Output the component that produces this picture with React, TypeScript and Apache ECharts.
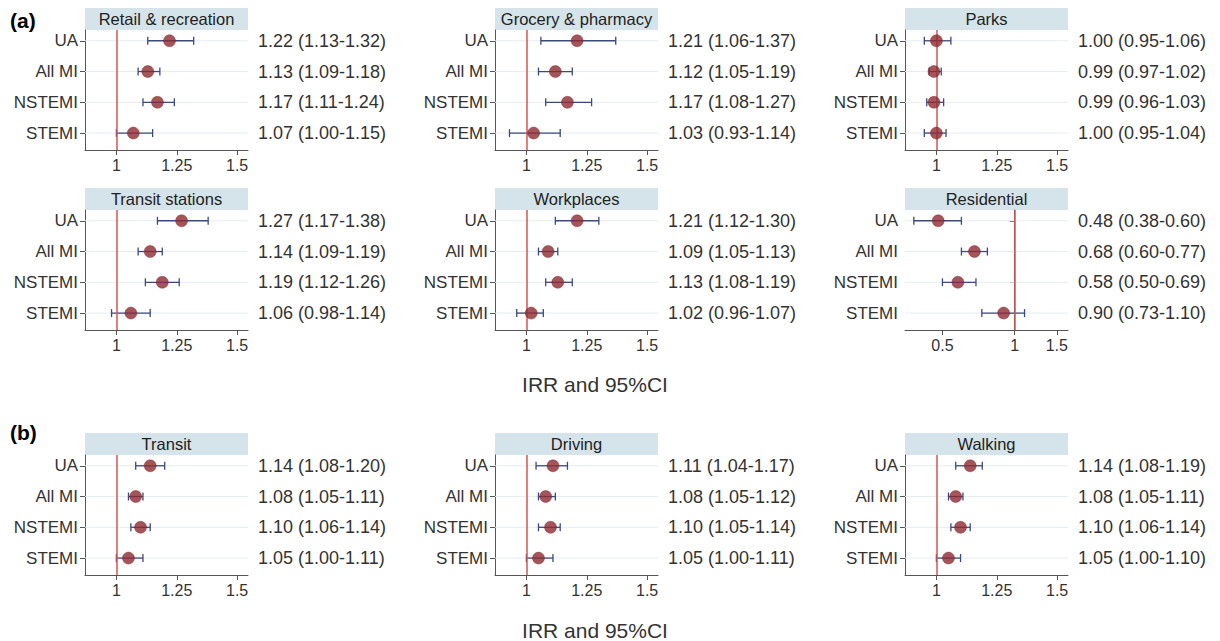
import { useEffect, useRef } from 'react';
import * as echarts from 'echarts';

const groups = ['UA', 'All MI', 'NSTEMI', 'STEMI'];

const panelTitles = [
  'Retail & recreation', 'Grocery & pharmacy', 'Parks',
  'Transit stations', 'Workplaces', 'Residential',
  'Transit', 'Driving', 'Walking',
];

// [irr, lower, upper] per group (UA, All MI, NSTEMI, STEMI)
const retail = [[1.22, 1.13, 1.32], [1.13, 1.09, 1.18], [1.17, 1.11, 1.24], [1.07, 1.0, 1.15]];
const grocery = [[1.21, 1.06, 1.37], [1.12, 1.05, 1.19], [1.17, 1.08, 1.27], [1.03, 0.93, 1.14]];
const parks = [[1.0, 0.95, 1.06], [0.99, 0.97, 1.02], [0.99, 0.96, 1.03], [1.0, 0.95, 1.04]];
const transitStations = [[1.27, 1.17, 1.38], [1.14, 1.09, 1.19], [1.19, 1.12, 1.26], [1.06, 0.98, 1.14]];
const workplaces = [[1.21, 1.12, 1.3], [1.09, 1.05, 1.13], [1.13, 1.08, 1.19], [1.02, 0.96, 1.07]];
const residential = [[0.48, 0.38, 0.6], [0.68, 0.6, 0.77], [0.58, 0.5, 0.69], [0.9, 0.73, 1.1]];
const transit = [[1.14, 1.08, 1.2], [1.08, 1.05, 1.11], [1.1, 1.06, 1.14], [1.05, 1.0, 1.11]];
const driving = [[1.11, 1.04, 1.17], [1.08, 1.05, 1.12], [1.1, 1.05, 1.14], [1.05, 1.0, 1.11]];
const walking = [[1.14, 1.08, 1.19], [1.08, 1.05, 1.11], [1.1, 1.06, 1.14], [1.05, 1.0, 1.1]];

const panelData = [retail, grocery, parks, transitStations, workplaces, residential, transit, driving, walking];
const linearTicks = [1, 1.25, 1.5];
const logTicks = [0.5, 1, 1.5];

const FONT = 'Liberation Sans, Arial, sans-serif';
const colLeft = [85, 495, 905];
const rowTop = [30, 210, 455];
const PW = 163;
const PH = 120;

export default function App() {
  const ref = useRef<HTMLDivElement>(null);

  useEffect(() => {
    document.body.style.margin = '0';
    if (!ref.current) return;
    const chart = echarts.init(ref.current, null, { renderer: 'svg' });

    const grids: any[] = [];
    const xAxes: any[] = [];
    const yAxes: any[] = [];
    const series: any[] = [];
    const graphic: any[] = [];

    panelData.forEach((rows, i) => {
      const isLog = i === 5;
      const tf = (v: number) => (isLog ? Math.log(v) : v);
      const ticks = isLog ? logTicks : linearTicks;
      const left = colLeft[i % 3];
      const top = rowTop[Math.floor(i / 3)];
      grids.push({ left, top, width: PW, height: PH });
      xAxes.push({
        gridIndex: i,
        type: 'value',
        min: isLog ? Math.log(0.349) : 0.87,
        max: isLog ? Math.log(1.67) : 1.545,
        axisLine: { show: true, onZero: false, lineStyle: { color: '#555' } },
        axisTick: { show: true, customValues: ticks.map(tf), length: 5, lineStyle: { color: '#555' } },
        axisLabel: {
          customValues: ticks.map(tf),
          formatter: (v: number) => {
            const r = Math.round((isLog ? Math.exp(v) : v) * 100) / 100;
            return String(r);
          },
          color: '#333', fontSize: 16, fontFamily: FONT, margin: 7,
        },
        splitLine: { show: false },
      });
      yAxes.push({
        gridIndex: i,
        type: 'value',
        inverse: true,
        min: -0.35,
        max: 3.55,
        axisLine: { show: true, lineStyle: { color: '#555' } },
        axisTick: { show: true, customValues: [0, 1, 2, 3], length: 5, lineStyle: { color: '#555' } },
        axisLabel: {
          customValues: [0, 1, 2, 3],
          formatter: (v: number) => groups[Math.round(v)] ?? '',
          color: '#333', fontSize: 17, fontFamily: FONT, margin: 7,
        },
        splitLine: { show: false },
      });
      series.push({
        type: 'custom',
        xAxisIndex: i,
        yAxisIndex: i,
        silent: true,
        data: rows.map((r, k) => [tf(r[0]), k, tf(r[1]), tf(r[2]), r[0], r[1], r[2]]),
        renderItem: (params: any, api: any) => {
          const cs = params.coordSys;
          const y = api.coord([api.value(0), api.value(1)])[1];
          const lo = api.coord([api.value(2), api.value(1)])[0];
          const hi = api.coord([api.value(3), api.value(1)])[0];
          const f = (v: number) => v.toFixed(2);
          const lineStyle = { stroke: '#3b4a7d', lineWidth: 1.3 };
          return {
            type: 'group',
            children: [
              { type: 'line', shape: { x1: cs.x, y1: y, x2: cs.x + cs.width, y2: y }, style: { stroke: '#e3edf2', lineWidth: 1 } },
              { type: 'line', shape: { x1: lo, y1: y, x2: hi, y2: y }, style: lineStyle },
              { type: 'line', shape: { x1: lo, y1: y - 4, x2: lo, y2: y + 4 }, style: lineStyle },
              { type: 'line', shape: { x1: hi, y1: y - 4, x2: hi, y2: y + 4 }, style: lineStyle },
              {
                type: 'text',
                x: cs.x + cs.width + 10,
                y,
                style: {
                  text: `${f(api.value(4))} (${f(api.value(5))}-${f(api.value(6))})`,
                  fill: '#333', font: `18px ${FONT}`, textVerticalAlign: 'middle',
                },
              },
            ],
          };
        },
      });
      series.push({
        type: 'scatter',
        xAxisIndex: i,
        yAxisIndex: i,
        silent: true,
        z: 5,
        symbolSize: 12,
        itemStyle: { color: '#8e2b31', borderColor: '#7a2228', borderWidth: 0.5 },
        data: rows.map((r, k) => [tf(r[0]), k]),
        markLine: {
          silent: true,
          symbol: 'none',
          label: { show: false },
          lineStyle: { color: '#d9534f', width: 1.5, type: 'solid' },
          data: [{ xAxis: tf(1) }],
        },
      });
      graphic.push({
        type: 'rect',
        shape: { x: left, y: top - 22, width: PW, height: 22 },
        style: { fill: '#d5e4ea' },
      });
      graphic.push({
        type: 'text',
        x: left + PW / 2,
        y: top - 11,
        style: {
          text: panelTitles[i], fill: '#222', font: `16.5px ${FONT}`,
          textAlign: 'center', textVerticalAlign: 'middle',
        },
      });
    });

    graphic.push(
      { type: 'text', x: 10, y: 20, style: { text: '(a)', fill: '#000', font: `bold 21px ${FONT}`, textVerticalAlign: 'middle' } },
      { type: 'text', x: 10, y: 432, style: { text: '(b)', fill: '#000', font: `bold 21px ${FONT}`, textVerticalAlign: 'middle' } },
      { type: 'text', x: 595, y: 384, style: { text: 'IRR and 95%CI', fill: '#333', font: `21px ${FONT}`, textAlign: 'center', textVerticalAlign: 'middle' } },
      { type: 'text', x: 595, y: 630, style: { text: 'IRR and 95%CI', fill: '#333', font: `21px ${FONT}`, textAlign: 'center', textVerticalAlign: 'middle' } },
    );

    chart.setOption({
      animation: false,
      backgroundColor: '#fff',
      grid: grids,
      xAxis: xAxes,
      yAxis: yAxes,
      series,
      graphic,
    });

    return () => {
      chart.dispose();
    };
  }, []);

  return <div ref={ref} style={{ width: 1220, height: 641 }} />;
}
